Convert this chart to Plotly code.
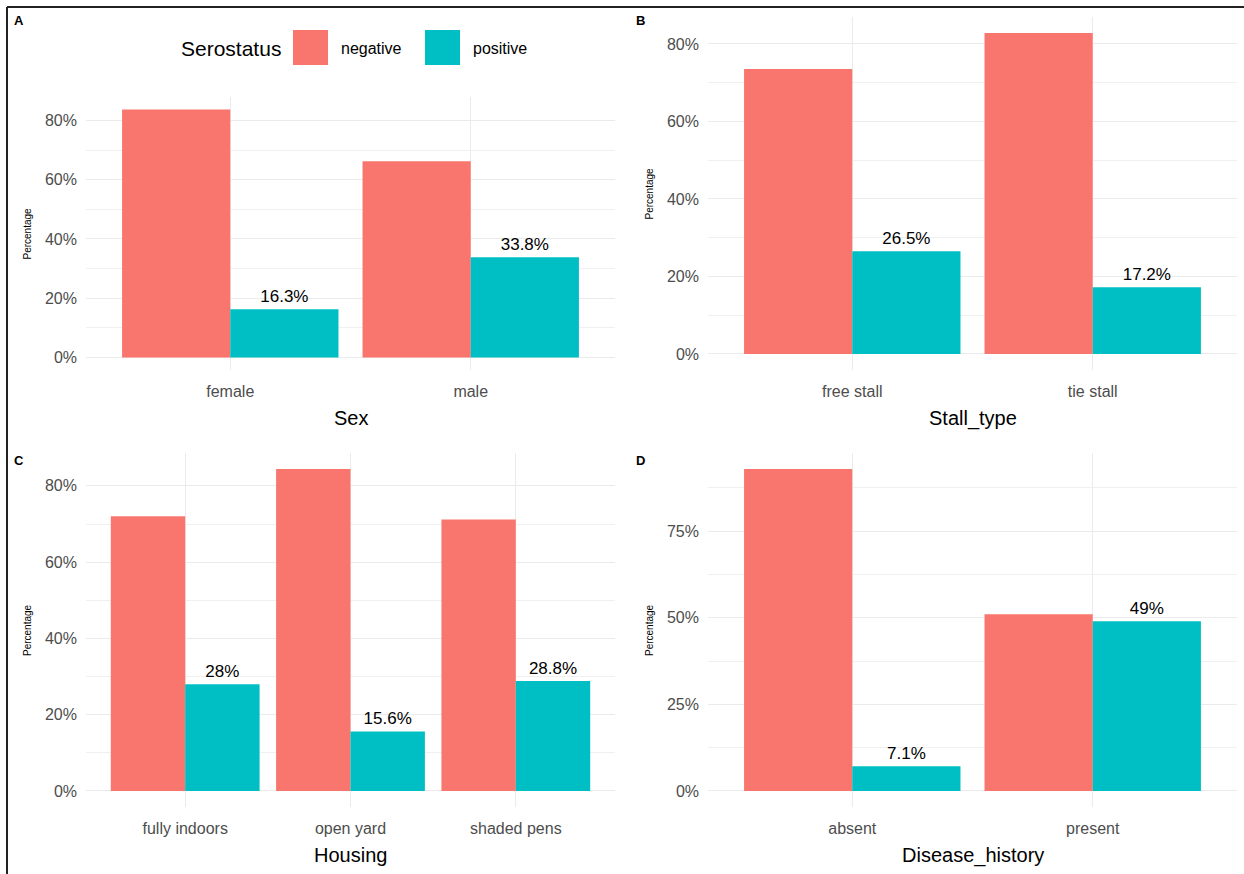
import plotly.graph_objects as go

# Seroprevalence by risk factor (percent of animals in each group)
sex_levels = ["female", "male"]
sex_negative = [83.7, 66.2]
sex_positive = [16.3, 33.8]

stall_levels = ["free stall", "tie stall"]
stall_negative = [73.5, 82.8]
stall_positive = [26.5, 17.2]

housing_levels = ["fully indoors", "open yard", "shaded pens"]
housing_negative = [72.0, 84.4, 71.2]
housing_positive = [28.0, 15.6, 28.8]

disease_levels = ["absent", "present"]
disease_negative = [92.9, 51.0]
disease_positive = [7.1, 49.0]

status_names = ["negative", "positive"]
status_colors = {"negative": "#F8766D", "positive": "#00BFC4"}

W, H = 1244, 874
FONT = "Liberation Sans"


def px_x(p):
    return p / W


def px_y(p):
    return 1 - p / H


def fmt(v):
    return f"{v:g}%"


panels = [
    # key, title, levels, negative, positive, x px span, y px span, tick step, label
    ("", "Sex", sex_levels, sex_negative, sex_positive, (86, 615), (97, 370), 20, "A"),
    ("2", "Stall_type", stall_levels, stall_negative, stall_positive, (708, 1237), (17, 370), 20, "B"),
    ("3", "Housing", housing_levels, housing_negative, housing_positive, (86, 615), (453, 807), 20, "C"),
    ("4", "Disease_history", disease_levels, disease_negative, disease_positive, (708, 1237), (453, 807), 25, "D"),
]

fig = go.Figure()
layout = dict(
    width=W,
    height=H,
    margin=dict(l=0, r=0, t=0, b=0),
    paper_bgcolor="white",
    plot_bgcolor="white",
    barmode="group",
    bargap=0.1,
    bargroupgap=0,
    showlegend=False,
    font=dict(family=FONT, color="#4D4D4D"),
)
annotations = []
shapes = []

for key, title, levels, neg, pos, (x0, x1), (y0, y1), step, letter in panels:
    xa, ya = "x" + key, "y" + key
    fig.add_trace(go.Bar(
        x=levels, y=neg, name="negative", marker_color=status_colors["negative"],
        marker_line_width=0, xaxis=xa, yaxis=ya,
    ))
    fig.add_trace(go.Bar(
        x=levels, y=pos, name="positive", marker_color=status_colors["positive"],
        marker_line_width=0, xaxis=xa, yaxis=ya,
        text=[fmt(v) for v in pos], textposition="outside",
        textfont=dict(family=FONT, size=17, color="black"), cliponaxis=False,
    ))
    vmax = max(max(neg), max(pos))
    pad = 0.05 * vmax
    n = len(levels)
    layout["xaxis" + key] = dict(
        domain=[px_x(x0), px_x(x1)], anchor=ya, type="category",
        range=[-0.6, n - 0.4], showgrid=True, gridcolor="#EBEBEB", gridwidth=1,
        zeroline=False, showline=False, ticks="", ticklabelstandoff=10,
        tickfont=dict(family=FONT, size=16, color="#4D4D4D"),
    )
    layout["yaxis" + key] = dict(
        domain=[px_y(y1), px_y(y0)], anchor=xa, range=[-pad, vmax + pad],
        tick0=0, dtick=step, ticksuffix="%", showgrid=True, gridcolor="#EBEBEB",
        gridwidth=1, zeroline=False, showline=False, ticks="", ticklabelstandoff=8,
        tickfont=dict(family=FONT, size=16, color="#4D4D4D"),
        minor=dict(dtick=step / 2, tick0=0, showgrid=True, gridcolor="#F0F0F0", gridwidth=1),
    )
    # axis titles
    annotations.append(dict(
        text=title, xref="paper", yref="paper", x=px_x((x0 + x1) / 2), y=px_y(y1 + 48),
        xanchor="center", yanchor="middle", showarrow=False,
        font=dict(family=FONT, size=20, color="black"),
    ))
    annotations.append(dict(
        text="Percentage", xref="paper", yref="paper", x=px_x(x0 - 59), y=px_y((y0 + y1) / 2),
        xanchor="center", yanchor="middle", showarrow=False, textangle=-90,
        font=dict(family=FONT, size=10, color="black"),
    ))
    # panel tag
    annotations.append(dict(
        text=f"<b>{letter}</b>", xref="paper", yref="paper",
        x=px_x(x0 - 74), y=px_y(20 if y0 < 200 else 460),
        xanchor="left", yanchor="middle", showarrow=False,
        font=dict(family=FONT, size=13, color="black"),
    ))

# legend for serostatus, placed above panel A
annotations.append(dict(
    text="Serostatus", xref="paper", yref="paper", x=px_x(283), y=px_y(48),
    xanchor="right", yanchor="middle", showarrow=False,
    font=dict(family=FONT, size=21, color="black"),
))
for name, sx in zip(status_names, [293, 425]):
    shapes.append(dict(
        type="rect", xref="paper", yref="paper",
        x0=px_x(sx), x1=px_x(sx + 35), y0=px_y(65), y1=px_y(30),
        fillcolor=status_colors[name], line=dict(width=0),
    ))
    annotations.append(dict(
        text=name, xref="paper", yref="paper", x=px_x(sx + 46), y=px_y(48),
        xanchor="left", yanchor="middle", showarrow=False,
        font=dict(family=FONT, size=16, color="black"),
    ))

# frame around the figure
shapes.append(dict(type="line", xref="paper", yref="paper", x0=px_x(7), x1=1.0,
                   y0=px_y(7), y1=px_y(7), line=dict(color="#222222", width=2)))
shapes.append(dict(type="line", xref="paper", yref="paper", x0=px_x(7), x1=px_x(7),
                   y0=px_y(7), y1=0.0, line=dict(color="#222222", width=2)))

layout["annotations"] = annotations
layout["shapes"] = shapes
fig.update_layout(**layout)
fig.write_html("out.html")
